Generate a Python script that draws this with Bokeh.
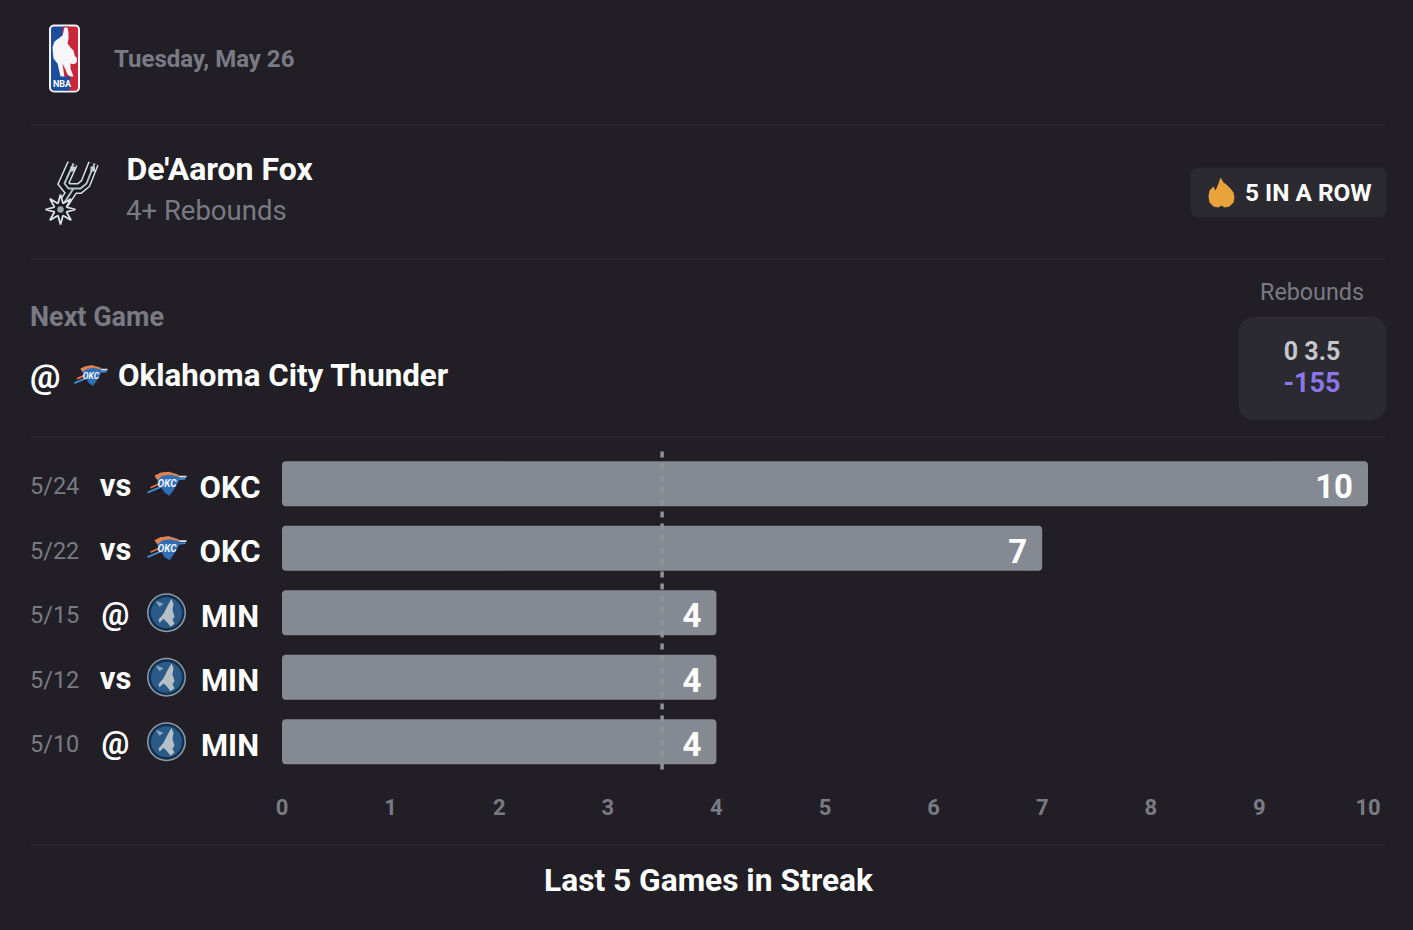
from bokeh.plotting import figure
from bokeh.models import Range1d, FixedTicker, ColumnDataSource
from bokeh.layouts import column
from bokeh.embed import file_html
from bokeh.resources import INLINE
from bokeh.core.properties import value
import math

dates = ["5/24", "5/22", "5/15", "5/12", "5/10"]
venues = ["vs", "vs", "@", "vs", "@"]
teams = ["OKC", "OKC", "MIN", "MIN", "MIN"]
rebounds = [10, 7, 4, 4, 4]
line_value = 3.5
axis_ticks = [0, 1, 2, 3, 4, 5, 6, 7, 8, 9, 10]

FONT = "Roboto"
BG = "#211f25"
SEP = "#2a2930"
PANEL = "#2b2a30"
GRAY = "#7a7a84"
BAR = "#858a92"
WHITE = "#ffffff"

W = 1413
X0 = 0
X1 = X0 + W
MAIN_TOP = 0
FRAME_BOTTOM = 790
MAIN_H = 838
FOOT_H = 92
ZERO_PX, UNIT_PX = 281.5, 108.6
ROW0_PX, ROW_PX = 483.2, 64.5

p = figure(
    width=W, height=MAIN_H, output_backend="svg", toolbar_location=None,
    x_range=Range1d((X0 - ZERO_PX) / UNIT_PX, (X1 - ZERO_PX) / UNIT_PX),
    y_range=Range1d((FRAME_BOTTOM - ROW0_PX) / ROW_PX, (MAIN_TOP - ROW0_PX) / ROW_PX),
    y_axis_location=None, x_axis_location="below",
    background_fill_color=BG, border_fill_color=BG, outline_line_color=None,
    min_border_left=0, min_border_right=0, min_border_top=0,
    min_border_bottom=MAIN_H - (FRAME_BOTTOM - MAIN_TOP),
)
p.grid.visible = False
p.extra_x_ranges["px"] = Range1d(X0, X1)
p.extra_y_ranges["px"] = Range1d(FRAME_BOTTOM, MAIN_TOP)
PX = dict(x_range_name="px", y_range_name="px")

ax = p.xaxis[0]
ax.ticker = FixedTicker(ticks=axis_ticks)
ax.axis_line_color = None
ax.major_tick_line_color = None
ax.minor_tick_line_color = None
ax.major_label_text_color = GRAY
ax.major_label_text_font = FONT
ax.major_label_text_font_size = "22px"
ax.major_label_text_font_style = "bold"
ax.major_label_standoff = 2

foot = figure(
    width=W, height=FOOT_H, output_backend="svg", toolbar_location=None,
    x_range=Range1d(X0, X1), y_range=Range1d(MAIN_TOP + MAIN_H + FOOT_H, MAIN_TOP + MAIN_H),
    x_axis_location=None, y_axis_location=None,
    background_fill_color=BG, border_fill_color=BG, outline_line_color=None,
    min_border_left=0, min_border_right=0, min_border_top=0, min_border_bottom=0,
)
foot.grid.visible = False


def txt(fig, x, y, s, size, color=WHITE, style="normal", align="left", **kw):
    fig.text(x=[x], y=[y], text=[s], text_font=value(FONT), text_font_size=value(f"{size}px"),
             text_color=color, text_font_style=style, text_align=align, text_baseline="middle", **kw)


def sep(fig, y, **kw):
    fig.segment(x0=[30], x1=[1385], y0=[y], y1=[y], line_color=SEP, line_width=1.5, **kw)


def poly(xs, ys, color, ox=0, oy=0, s=1.0, **line):
    p.patch([ox + s * x for x in xs], [oy + s * y for y in ys], fill_color=color,
            line_color=line.get("line_color"), line_width=line.get("line_width", 0), **PX)


def nba_logo():
    p.quad(left=[48.5], right=[79.5], top=[24], bottom=[92], fill_color="#f4f4f6", line_color=None,
           border_radius=5, **PX)
    p.quad(left=[50.5], right=[70], top=[26], bottom=[90], fill_color="#1d4e9e", line_color=None,
           border_radius=3, **PX)
    p.quad(left=[62], right=[77.5], top=[26], bottom=[90], fill_color="#c9263a", line_color=None,
           border_radius=3, **PX)
    poly([64, 67, 68, 68, 67, 70, 73, 74, 75, 73, 70, 70, 73, 71, 67, 65, 62, 64, 60, 57, 53, 52, 54, 58, 62],
         [27, 27, 32, 38, 43, 47, 50, 54, 60, 64, 62, 68, 76, 77, 74, 69, 63, 77, 76, 63, 58, 47, 41, 38, 35],
         "#f6f6f8")
    p.circle(x=[72.5], y=[59.5], radius=4, fill_color="#f6f6f8", line_color=None, **PX)
    p.quad(left=[52.5], right=[70], top=[76], bottom=[90], fill_color="#1d4e9e", line_color=None, **PX)
    p.quad(left=[70], right=[76], top=[76], bottom=[90], fill_color="#c9263a", line_color=None, **PX)
    txt(p, 61.5, 83.5, "NBA", 9, WHITE, "bold", "center", **PX)


def spurs_logo():
    xs = [[72, 63, 67, 79, 85, 93], [73, 60]]
    ys = [[163, 183, 188, 188, 183, 163], [188, 208]]
    p.multi_line(xs, ys, line_color="#d8e0e2", line_width=11, line_join="miter", **PX)
    p.multi_line(xs, ys, line_color="#17191e", line_width=8, line_join="miter", **PX)
    p.multi_line([[x + 1 for x in xs[0]], xs[1]], [ys[0], ys[1]], line_color="#b4c2c4", line_width=2, **PX)
    cx, cy = 60, 209
    sx, sy = [], []
    for i in range(16):
        r = 15 if i % 2 == 0 else 6.5
        a = math.pi * 2 * i / 16 + math.pi / 2
        sx.append(cx + r * math.cos(a))
        sy.append(cy + r * math.sin(a))
    poly(sx, sy, "#17191e", line_color="#d8e0e2", line_width=1.8)
    p.circle(x=[cx], y=[cy], radius=3.2, fill_color="#9aa6a8", line_color=None, **PX)
    p.quad(left=[70, 90], right=[74.5, 94.5], top=[166, 166], bottom=[171, 171], fill_color="#c8d2d4",
           line_color=None, **PX)


def okc_logo(cx, cy, s=1.0):
    p.segment(x0=[cx - 19 * s, cx - 16 * s, cx + 6 * s, cx + 8 * s],
              x1=[cx - 5 * s, cx - 5 * s, cx + 20 * s, cx + 19 * s],
              y0=[cy + 9 * s, cy + 4 * s, cy - 7 * s, cy - 4 * s],
              y1=[cy + 3 * s, cy - 1 * s, cy - 7 * s, cy - 5 * s],
              line_color=["#3f8fd8", "#e8703a", "#dfe7f0", "#3f8fd8"], line_width=1.8, **PX)
    poly([-12, -6, 2, 12, 13, 8, 3, -2, -6], [-8, -11, -12, -9, -4, 5, 12, 9, 2], "#2e6fb8", cx, cy, s)
    poly([-12, -6, 2, 12, 12, 4, -4, -9], [-8, -11, -12, -9, -7, -9, -8, -4], "#e88048", cx, cy, s)
    p.text(x=[cx + 0.5 * s], y=[cy], text=["OKC"], text_font=value(FONT), text_font_size=value(f"{10 * s}px"),
           text_font_style="bold italic", text_color="#f1f4f8", text_align="center", text_baseline="middle", **PX)


def min_logo(cx, cy):
    p.circle(x=[cx], y=[cy], radius=19.5, fill_color="#8e9ba6", line_color=None, **PX)
    p.circle(x=[cx], y=[cy], radius=18, fill_color="#14304f", line_color=None, **PX)
    p.circle(x=[cx], y=[cy], radius=15.5, fill_color="#2a5a88", line_color=None, **PX)
    poly([-8, -3, 1, 5, 7, 6, 8, 6, 8, 4, 1, -3, -7], [7, 1, -7, -14, -9, -3, 4, 7, 11, 14, 10, 6, 10],
         "#b6bec6", cx, cy)
    poly([-11, -3, -7], [-12, -9, -6], "#8fa6ba", cx, cy)


def flame(cx, cy):
    poly([-1, 2, 6, 9, 12, 13, 12, 8, 3, 0, -3, -8, -12, -13, -12, -8, -6, -3],
         [-15, -10, -7, -4, 0, 5, 10, 14, 15, 13, 15, 14, 10, 4, -2, -6, -2, -9],
         "#eaa33a", cx, cy)


# ---- header
nba_logo()
txt(p, 113.5, 58, "Tuesday, May 26", 24, GRAY, "bold", **PX)
sep(p, 124.5, **PX)
spurs_logo()
txt(p, 126, 168.5, "De'Aaron Fox", 32, WHITE, "bold", **PX)
txt(p, 125.5, 210, "4+ Rebounds", 27.5, GRAY, **PX)
p.quad(left=[1190], right=[1386], top=[167], bottom=[217], fill_color=PANEL, line_color=None,
       border_radius=8, **PX)
flame(1221, 192)
txt(p, 1244.5, 192, "5 IN A ROW", 24.4, WHITE, "bold", **PX)
sep(p, 258.5, **PX)

# ---- next game
txt(p, 29.5, 316, "Next Game", 27, GRAY, "bold", **PX)
txt(p, 29.5, 375, "@", 34, WHITE, "bold", **PX)
okc_logo(90, 375, 0.85)
txt(p, 117.5, 375, "Oklahoma City Thunder", 31.3, WHITE, "bold", **PX)
txt(p, 1311.5, 291, "Rebounds", 23.3, GRAY, align="center", **PX)
p.quad(left=[1238], right=[1386], top=[316], bottom=[420], fill_color=PANEL, line_color=None,
       border_radius=16, **PX)
txt(p, 1311.5, 351, "0 3.5", 25, "#c6c6cc", "bold", "center", **PX)
txt(p, 1311.5, 381, "-155", 27, "#8d75ea", "bold", "center", **PX)
sep(p, 436.5, **PX)

# ---- bars
rows = list(range(len(rebounds)))
src = ColumnDataSource(dict(row=rows, val=rebounds, date=dates, venue=venues, team=teams))
p.hbar(y="row", left=0, right="val", height=0.698, source=src, fill_color=BAR, line_color=None,
       border_radius=4)
p.segment(x0=[line_value], x1=[line_value], y0=[-0.5], y1=[len(rows) - 0.5], line_color="#8f9299",
          line_width=3.5, line_dash="6 6")
p.text(x="val", y="row", text="val", source=src, text_font=value(FONT), text_font_size=value("33px"),
       text_font_style="bold", text_color=WHITE, text_align="right", text_baseline="middle",
       x_offset=-15, y_offset=2.5)

# ---- left columns of the rows (x in pixels through a linear map onto the value axis)
def col_x(px):
    return (px - ZERO_PX) / UNIT_PX

p.text(x=col_x(29.5), y="row", text="date", source=src, text_font=value(FONT), text_font_size=value("23.5px"),
       text_color=GRAY, text_align="left", text_baseline="middle", y_offset=2.5)
p.text(x=col_x(115), y="row", text="venue", source=src, text_font=value(FONT), text_font_size=value("31px"),
       text_font_style="bold", text_color=WHITE, text_align="center", text_baseline="middle", y_offset=1.5)
p.text(x=col_x(229.5), y="row", text="team", source=src, text_font=value(FONT), text_font_size=value("31px"),
       text_font_style="bold", text_color=WHITE, text_align="center", text_baseline="middle", y_offset=3.5)
for r, t in zip(rows, teams):
    cy = ROW0_PX + ROW_PX * r
    if t == "OKC":
        okc_logo(166, cy)
    else:
        min_logo(166, cy)

# ---- footer
sep(foot, 844.5)
txt(foot, 708, 880, "Last 5 Games in Streak", 31.7, WHITE, "bold", "center")

page = column(p, foot, spacing=0)
html = file_html(page, INLINE)
html = html.replace("<head>", f"<head><style>html,body{{background:{BG};}}</style>", 1)
open("out.html", "w").write(html)
